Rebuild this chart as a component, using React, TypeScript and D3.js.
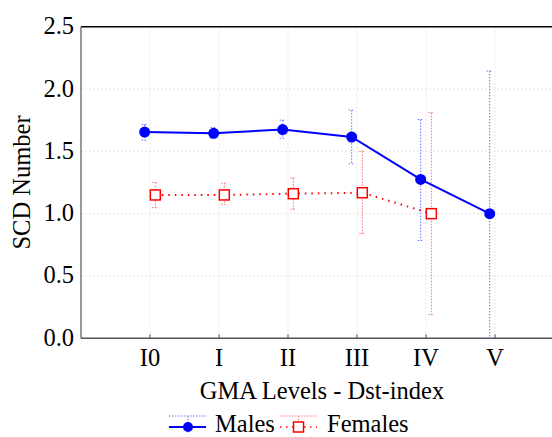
import React from "react";
import * as d3 from "d3";

const categories = ["I0", "I", "II", "III", "IV", "V"];
const maleMean = [1.655, 1.645, 1.675, 1.615, 1.275, 1.0];
const maleLow = [1.59, 1.605, 1.605, 1.4, 0.785, 0.0];
const maleHigh = [1.715, 1.69, 1.75, 1.83, 1.755, 2.145];
const femaleMean = [1.15, 1.15, 1.16, 1.168, 1.0];
const femaleLow = [1.048, 1.075, 1.035, 0.84, 0.19];
const femaleHigh = [1.25, 1.245, 1.285, 1.5, 1.81];
const yTicks = [0, 0.5, 1.0, 1.5, 2.0, 2.5];

const W = 552;
const H = 437;
const FONT = "Liberation Serif";
const FS = 24.5;
const BLUE = "#0000ff";
const RED = "#ff0000";
const ERR_BLUE = "#6c6cff";
const ERR_RED = "#ff7070";

export default function App() {
  const x = d3.scaleLinear().domain([0, 7]).range([81, 564]);
  const y = d3.scaleLinear().domain([0, 2.5]).range([338.3, 26.7]);
  const off = 0.077;

  const malePts = maleMean.map((v, i) => ({ cx: x(i + 1 - off), cy: y(v), lo: y(maleLow[i]), hi: y(maleHigh[i]) }));
  const femalePts = femaleMean.map((v, i) => ({ cx: x(i + 1 + off), cy: y(v), lo: y(femaleLow[i]), hi: y(femaleHigh[i]) }));

  const line = d3
    .line<{ cx: number; cy: number }>()
    .x((d) => d.cx)
    .y((d) => d.cy);

  const errBar = (p: { cx: number; lo: number; hi: number }, color: string, key: string) => (
    <g key={key} stroke={color} strokeWidth={1} strokeDasharray="1.5,1.5" fill="none">
      <line x1={p.cx} x2={p.cx} y1={p.hi} y2={p.lo} />
      <line x1={p.cx - 3} x2={p.cx + 3} y1={p.hi} y2={p.hi} />
      <line x1={p.cx - 3} x2={p.cx + 3} y1={p.lo} y2={p.lo} />
    </g>
  );

  return (
    <svg width={W} height={H} style={{ position: "absolute", left: 0, top: 0, background: "#fff" }}>
      {/* grid */}
      <g stroke="#e4e4e4" strokeWidth={1} strokeDasharray="2,2">
        {yTicks.slice(1).map((t) => (
          <line key={"gy" + t} x1={81} x2={W} y1={y(t)} y2={y(t)} />
        ))}
        {categories.map((c, i) => (
          <line key={"gx" + c} x1={x(i + 1)} x2={x(i + 1)} y1={y(2.5)} y2={y(0)} />
        ))}
      </g>

      {/* frame */}
      <line x1={81} x2={W} y1={y(2.5)} y2={y(2.5)} stroke="#000" strokeWidth={1.5} />
      <line x1={81} x2={81} y1={y(2.5)} y2={y(0)} stroke="#777" strokeWidth={1.5} />
      <line x1={81} x2={W} y1={y(0)} y2={y(0)} stroke="#555" strokeWidth={1.5} />
      {categories.map((c, i) => (
        <line key={"tk" + c} x1={x(i + 1)} x2={x(i + 1)} y1={y(0)} y2={y(0) - 4} stroke="#555" strokeWidth={1} />
      ))}

      {/* y tick labels */}
      {yTicks.map((t) => (
        <text key={"yl" + t} x={74} y={y(t) + 7.5} textAnchor="end" fontFamily={FONT} fontSize={FS} fill="#000">
          {t.toFixed(1)}
        </text>
      ))}
      {/* x tick labels */}
      {categories.map((c, i) => (
        <text key={"xl" + c} x={x(i + 1)} y={366} textAnchor="middle" fontFamily={FONT} fontSize={FS} fill="#000">
          {c}
        </text>
      ))}

      <text
        transform={`translate(30,${(y(0) + y(2.5)) / 2}) rotate(-90)`}
        textAnchor="middle"
        fontFamily={FONT}
        fontSize={FS}
        fill="#000"
      >
        SCD Number
      </text>
      <text x={322} y={399} textAnchor="middle" fontFamily={FONT} fontSize={FS} fill="#000">
        GMA Levels - Dst-index
      </text>

      {/* error bars */}
      {malePts.map((p, i) => errBar(p, ERR_BLUE, "em" + i))}
      {femalePts.map((p, i) => errBar(p, ERR_RED, "ef" + i))}

      {/* series lines */}
      <path d={line(malePts) ?? ""} fill="none" stroke={BLUE} strokeWidth={2} />
      <path d={line(femalePts) ?? ""} fill="none" stroke={RED} strokeWidth={2} strokeDasharray="1.5,5" />

      {/* markers */}
      {malePts.map((p, i) => (
        <circle key={"m" + i} cx={p.cx} cy={p.cy} r={5.5} fill={BLUE} />
      ))}
      {femalePts.map((p, i) => (
        <rect key={"f" + i} x={p.cx - 5} y={p.cy - 5} width={10} height={10} fill="#fff" stroke={RED} strokeWidth={1.5} />
      ))}

      {/* legend */}
      <g>
        <line x1={169} x2={206} y1={416} y2={416} stroke={ERR_BLUE} strokeWidth={1} strokeDasharray="1.5,1.5" />
        <line x1={188} x2={188} y1={416} y2={434} stroke={ERR_BLUE} strokeWidth={1} strokeDasharray="1.5,1.5" />
        <line x1={169} x2={206} y1={427} y2={427} stroke={BLUE} strokeWidth={2} />
        <circle cx={188} cy={427} r={5} fill={BLUE} />
        <text x={215} y={432} fontFamily={FONT} fontSize={FS} fill="#000">
          Males
        </text>
        <line x1={280} x2={317} y1={416} y2={416} stroke={ERR_RED} strokeWidth={1} strokeDasharray="1.5,1.5" />
        <line x1={298.5} x2={298.5} y1={416} y2={434} stroke={ERR_RED} strokeWidth={1} strokeDasharray="1.5,1.5" />
        <line x1={280} x2={317} y1={427} y2={427} stroke={RED} strokeWidth={1.5} strokeDasharray="1.5,4.5" />
        <rect x={293.5} y={422} width={10} height={10} fill="#fff" stroke={RED} strokeWidth={1.5} />
        <text x={327} y={432} fontFamily={FONT} fontSize={FS} fill="#000">
          Females
        </text>
      </g>
    </svg>
  );
}
